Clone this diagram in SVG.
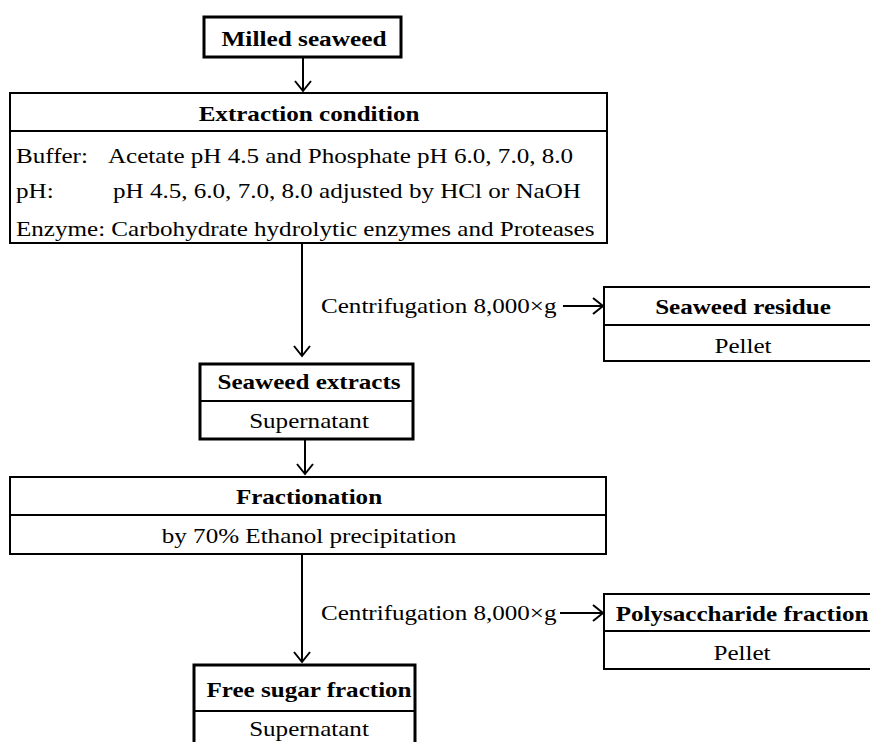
<svg xmlns="http://www.w3.org/2000/svg" width="870" height="742" viewBox="0 0 870 742">
  <defs>
    <marker id="arrow" markerWidth="16" markerHeight="18" refX="11" refY="9" orient="auto" markerUnits="userSpaceOnUse">
      <path d="M1,1 L11,9 L1,17" fill="none" stroke="#000" stroke-width="2"/>
    </marker>
    <style>
      text { font-family: "Liberation Serif", "Times New Roman", serif; font-size: 22px; fill: #000; }
      .b { font-weight: bold; }
      .m { text-anchor: middle; }
      .thin { fill: #fff; stroke: #000; stroke-width: 2; }
      .thick { fill: #fff; stroke: #000; stroke-width: 3; }
      .div { stroke: #000; stroke-width: 2; }
      .edge { stroke: #000; stroke-width: 2; fill: none; marker-end: url(#arrow); }
    </style>
  </defs>
  <rect width="870" height="742" fill="#fff"/>

  <!-- connectors; labels use a wide face made by a horizontal scale of 1.14 -->
  <g id="connectors">
    <line class="edge" x1="303" y1="58" x2="303" y2="91"/>
    <line class="edge" x1="302" y1="244" x2="302" y2="356"/>
    <line class="edge" x1="563" y1="306" x2="603" y2="306"/>
    <line class="edge" x1="305" y1="440" x2="305" y2="474"/>
    <line class="edge" x1="302" y1="555" x2="302" y2="662"/>
    <line class="edge" x1="560" y1="613" x2="603" y2="613"/>
    <text transform="translate(321,313) scale(1.14,1)">Centrifugation 8,000×g</text>
    <text transform="translate(321,620) scale(1.14,1)">Centrifugation 8,000×g</text>
  </g>

  <g id="milled">
    <rect class="thick" x="204" y="17" width="197" height="40"/>
    <text class="b m" transform="translate(304,46) scale(1.15,1)">Milled seaweed</text>
  </g>

  <g id="extraction">
    <rect class="thin" x="10" y="93" width="597" height="150"/>
    <line class="div" x1="10" y1="131" x2="607" y2="131"/>
    <text class="b m" transform="translate(309,121) scale(1.14,1)">Extraction condition</text>
    <text transform="translate(16,163) scale(1.14,1)">Buffer:</text>
    <text transform="translate(108,163) scale(1.14,1)">Acetate pH 4.5 and Phosphate pH 6.0, 7.0, 8.0</text>
    <text transform="translate(16,198) scale(1.14,1)">pH:</text>
    <text transform="translate(113,198) scale(1.14,1)">pH 4.5, 6.0, 7.0, 8.0 adjusted by HCl or NaOH</text>
    <text transform="translate(16,236) scale(1.14,1)">Enzyme: Carbohydrate hydrolytic enzymes and Proteases</text>
  </g>

  <g id="residue">
    <rect class="thin" x="604" y="287" width="280" height="74"/>
    <line class="div" x1="604" y1="325" x2="870" y2="325"/>
    <text class="b m" transform="translate(743,314) scale(1.14,1)">Seaweed residue</text>
    <text class="m" transform="translate(743,353) scale(1.14,1)">Pellet</text>
  </g>

  <g id="extracts">
    <rect class="thick" x="200" y="364" width="213" height="75"/>
    <line class="div" x1="200" y1="401" x2="413" y2="401"/>
    <text class="b m" transform="translate(309,389) scale(1.14,1)">Seaweed extracts</text>
    <text class="m" transform="translate(309,428) scale(1.14,1)">Supernatant</text>
  </g>

  <g id="fractionation">
    <rect class="thin" x="10" y="477" width="596" height="77"/>
    <line class="div" x1="10" y1="515" x2="606" y2="515"/>
    <text class="b m" transform="translate(309,504) scale(1.14,1)">Fractionation</text>
    <text class="m" transform="translate(309,543) scale(1.14,1)">by 70% Ethanol precipitation</text>
  </g>

  <g id="polysaccharide">
    <rect class="thin" x="604" y="594" width="280" height="75"/>
    <line class="div" x1="604" y1="631" x2="870" y2="631"/>
    <text class="b m" transform="translate(742,621) scale(1.14,1)">Polysaccharide fraction</text>
    <text class="m" transform="translate(742,660) scale(1.14,1)">Pellet</text>
  </g>

  <g id="freesugar">
    <rect class="thick" x="194" y="665" width="221" height="90"/>
    <line class="div" x1="194" y1="711" x2="415" y2="711"/>
    <text class="b m" transform="translate(309,697) scale(1.14,1)">Free sugar fraction</text>
    <text class="m" transform="translate(309,736) scale(1.14,1)">Supernatant</text>
  </g>
</svg>
